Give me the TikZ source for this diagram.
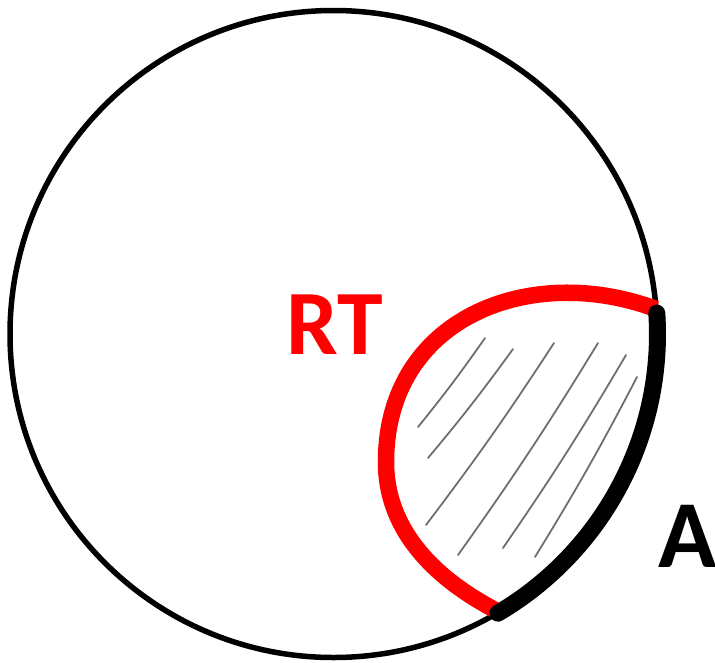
\documentclass[tikz,border=0pt]{standalone}
\usepackage{fontspec}
\setmainfont{Carlito}
\usetikzlibrary{calc}
\definecolor{hatchgray}{HTML}{6F6F6F}
\definecolor{pured}{HTML}{FF0000}
\begin{document}
\begin{tikzpicture}[x=1pt,y=-1pt,
  ring/.style={line width=5.5pt},
  redarc/.style={draw=pured, line width=16.5pt},
  blackarc/.style={line width=17pt, line cap=round},
  hatch/.style={draw=hatchgray, line width=1.8pt, line cap=round},
  lbl/.style={inner sep=0pt, font=\bfseries}]
\useasboundingbox (0,0) rectangle (715,662);
\coordinate (O) at (333.5,334);
\draw[ring] (O) circle[radius=323.5];
% hatching
\draw[hatch] (418,427) to[bend right=2] (485,338);
\draw[hatch] (428,458) to[bend right=2] (513,349);
\draw[hatch] (426,525) to[bend right=2] (554,343);
\draw[hatch] (458,555) to[bend right=2] (598,343);
\draw[hatch] (503,548) to[bend right=2] (626,355);
\draw[hatch] (535,557) to[bend right=2] (637,377);
% red boundary
\coordinate (R0) at (656,309);
\coordinate (R1) at (386,462);
\coordinate (R2) at (497,611);
\draw[redarc] (R0) .. controls (530,262) and (386,318) .. (R1)
  .. controls (386,542) and (453,588) .. (R2);
% black arc on circle
\coordinate (S) at ($(O)+(-3.7:324)$);
\draw[blackarc] (S) arc[start angle=-3.7, end angle=59.5, radius=324];
% labels
\node[lbl, text=pured, font=\fontsize{92}{92}\selectfont\bfseries, anchor=base] (rt) at (335,354) {RT};
\node[lbl, font=\fontsize{96}{96}\selectfont\bfseries, anchor=base west] (a) at (658,567) {A};
\end{tikzpicture}
\end{document}
